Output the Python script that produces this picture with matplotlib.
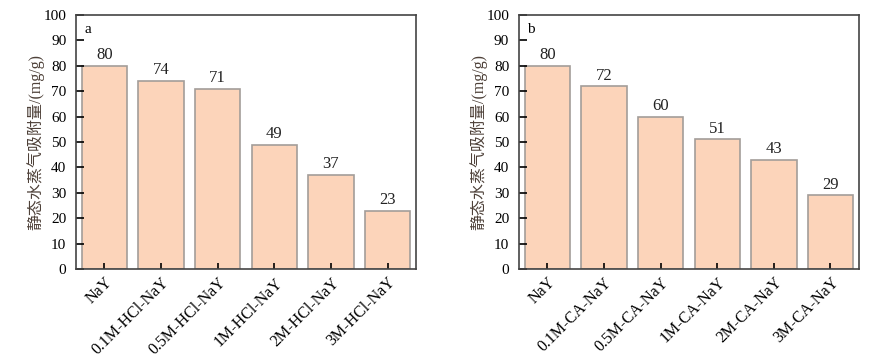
import matplotlib.pyplot as plt

plt.rcParams["font.family"] = ["Liberation Serif", "Noto Sans CJK SC"]

labels_a = ["NaY", "0.1M-HCl-NaY", "0.5M-HCl-NaY", "1M-HCl-NaY", "2M-HCl-NaY", "3M-HCl-NaY"]
values_a = [80, 74, 71, 49, 37, 23]
labels_b = ["NaY", "0.1M-CA-NaY", "0.5M-CA-NaY", "1M-CA-NaY", "2M-CA-NaY", "3M-CA-NaY"]
values_b = [80, 72, 60, 51, 43, 29]
ylabel = "静态水蒸气吸附量/(mg/g)"


def draw_panel(ax, labels, values, tag):
    x = range(len(values))
    ax.bar(x, values, width=0.8, color="#fcd4ba", edgecolor="#a39d99", linewidth=1.2)
    for xi, v in zip(x, values):
        ax.text(xi, v + 1, str(v), ha="center", va="bottom", fontsize=12, color="#222222")
    ax.set_xlim(-0.5, len(values) - 0.5)
    ax.set_ylim(0, 100)
    ax.set_yticks(range(0, 101, 10))
    ax.set_xticks(list(x))
    ax.set_xticklabels(labels, rotation=45, ha="right", rotation_mode="anchor", fontsize=11.5)
    ax.tick_params(axis="y", direction="in", length=6, width=1.2, labelsize=11, pad=7)
    ax.tick_params(axis="x", direction="in", length=4, width=1.2, pad=4)
    for s in ax.spines.values():
        s.set_color("#444444")
        s.set_linewidth(1.2)
    ax.text(0.025, 0.97, tag, transform=ax.transAxes, ha="left", va="top", fontsize=11)
    ax.set_ylabel(ylabel, fontsize=11.5, color="#4d4038", labelpad=-1)


fig = plt.figure(figsize=(8.92, 3.63), dpi=100)
ax_a = fig.add_axes([0.0852, 0.259, 0.381, 0.6997])
ax_b = fig.add_axes([0.5818, 0.259, 0.381, 0.6997])
draw_panel(ax_a, labels_a, values_a, "a")
draw_panel(ax_b, labels_b, values_b, "b")

fig.savefig("out.png", dpi=100)
